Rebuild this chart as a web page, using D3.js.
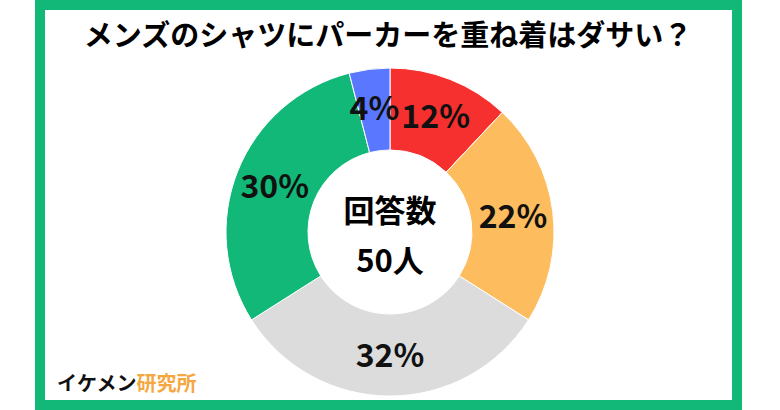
<!DOCTYPE html><html><head><meta charset="utf-8"><script src="https://cdn.jsdelivr.net/npm/d3@7"></script>
<style>body{margin:0;background:#fff}</style></head><body><svg id="c" width="780" height="410"></svg>
<script>
const labels=["12%","22%","32%","30%","4%"];
const values=[12,22,32,30,4];
const colors=["#f5302e","#fdbc5d","#dcdcdc","#12b878","#5a78ff"];
const svg=d3.select("#c");
const font="'Noto Sans CJK JP',sans-serif";
svg.append("rect").attr("x",40).attr("y",5).attr("width",697).attr("height",400).attr("fill","none").attr("stroke","#12b878").attr("stroke-width",10);
svg.append("text").attr("x",388).attr("y",46).attr("text-anchor","middle").attr("font-family",font).attr("font-weight",700).attr("font-size",29).text("メンズのシャツにパーカーを重ね着はダサい？");
const g=svg.append("g").attr("transform","translate(390,232)");
const pie=d3.pie().sort(null)(values);
const arc=d3.arc().innerRadius(82).outerRadius(164);
g.selectAll("path").data(pie).join("path").attr("d",arc).attr("fill",(d,i)=>colors[i]).attr("stroke","#fff").attr("stroke-width",1);
const la=d3.arc().innerRadius(124).outerRadius(124);
g.selectAll("text.l").data(pie).join("text").attr("class","l").attr("transform",(d,i)=>{const c=la.centroid(d);return `translate(${c[0]},${c[1]})`;})
 .attr("text-anchor","middle").attr("dy","0.35em").attr("font-family",font).attr("font-size",32).attr("font-weight",700).attr("fill","#111").text((d,i)=>labels[i]);
g.append("text").attr("y",-10).attr("text-anchor","middle").attr("font-family",font).attr("font-weight",700).attr("font-size",31).text("回答数");
g.append("text").attr("y",40).attr("text-anchor","middle").attr("font-family",font).attr("font-weight",700).attr("font-size",31).text("50人");
const t=svg.append("text").attr("x",57).attr("y",391).attr("font-family",font).attr("font-weight",700).attr("font-size",20);
t.append("tspan").attr("fill","#111").text("イケメン");
t.append("tspan").attr("fill","#f5a742").text("研究所");
</script></body></html>
